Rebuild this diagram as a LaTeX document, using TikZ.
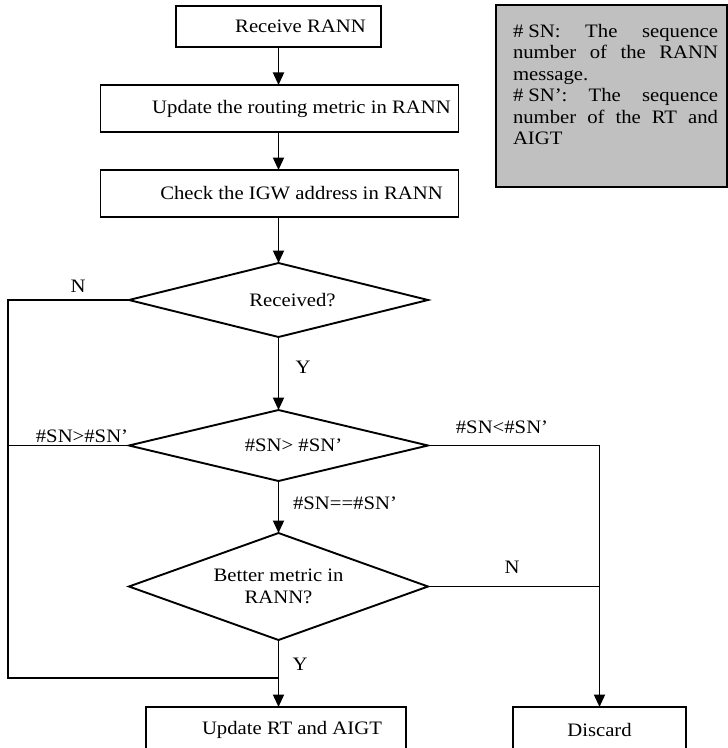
\documentclass[tikz,border=0pt]{standalone}
\usepackage{fontspec}
\setmainfont{Liberation Serif}[FakeStretch=1.09]
\usetikzlibrary{shapes.geometric,arrows.meta}
\definecolor{notegray}{RGB}{192,192,192}
\begin{document}
\begin{tikzpicture}[x=1bp,y=-1bp,
  every node/.style={font=\fontsize{19bp}{21.5bp}\selectfont, inner sep=0pt, outer sep=0pt},
  proc/.style={draw, line width=1.9bp, rectangle},
  dec/.style={draw, line width=1.9bp, diamond, align=center, minimum width=299bp},
  conn/.style={line width=1.9bp},
  arr/.style={conn, -{Triangle[length=12.5bp,width=11bp]}}]
\useasboundingbox (0,0) rectangle (728,748);

% process boxes
\node[proc, minimum width=205bp, minimum height=41bp] (b1) at (278.5,26.5) {\hspace*{44bp}Receive RANN};
\node[proc, minimum width=358bp, minimum height=47bp] (b2) at (279.5,108.5) {\hspace*{44bp}Update the routing metric in RANN};
\node[proc, minimum width=358bp, minimum height=47bp] (b3) at (279.5,193.5) {\hspace*{44bp}Check the IGW address in RANN};

% decisions
\node[dec, minimum height=74bp, aspect=4] (d1) at (278.5,300) {\hspace*{28bp}Received?};
\node[dec, minimum height=71bp, aspect=4] (d2) at (278.5,445.5) {\hspace*{30bp}\#SN> \#SN’};
\node[dec, minimum height=107bp, aspect=2.8] (d3) at (278.5,586.5) {Better metric in\\RANN?};

% end boxes
\node[proc, minimum width=260bp, minimum height=46bp] (b4) at (276,730) {\hspace*{32bp}Update RT and AIGT};
\node[proc, minimum width=173bp, minimum height=46bp] (disc) at (599.5,730) {Discard};

% note
\node[draw, fill=notegray, line width=1.9bp, minimum width=231bp, minimum height=182bp, anchor=north west] (note) at (496,5) {};
\node[anchor=north west, align=left] (notetext) at (513,24) {%
\makebox[205bp][s]{\#\kern5bp SN: The sequence}\\
\makebox[205bp][s]{number of the RANN}\\
message.\\
\makebox[205bp][s]{\#\kern5bp SN’: The sequence}\\
\makebox[205bp][s]{number of the RT and}\\
AIGT};

% helper coordinates
\coordinate (lft) at (8,678);
\coordinate (join) at (278.5,678);

% connectors
\draw[arr] (b1.south) -- (b1.south |- b2.north);
\draw[arr] (b2.south -| b1.south) -- (b1.south |- b3.north);
\draw[arr] (b3.south -| b1.south) -- (d1.north);
\draw[arr] (d1.south) -- (d2.north);
\draw[arr] (d2.south) -- (d3.north);
\draw[arr] (d3.south) -- (d3.south |- b4.north);
\draw[conn] (d1.west) -| (lft) -- (join);
\draw[conn] (d2.west) -- (d2.west -| lft);
\draw[arr] (d2.east) -| (disc.north);
\draw[conn] (d3.east) -- (d3.east -| disc.north);

% labels
\node (lN1) at (78,286) {N};
\node (lY1) at (303,367) {Y};
\node (lgt) at (82,436) {\#SN>\#SN’};
\node (llt) at (502,427) {\#SN<\#SN’};
\node (leq) at (345,503) {\#SN==\#SN’};
\node (lN2) at (512,567) {N};
\node (lY2) at (300,664) {Y};
\end{tikzpicture}
\end{document}
